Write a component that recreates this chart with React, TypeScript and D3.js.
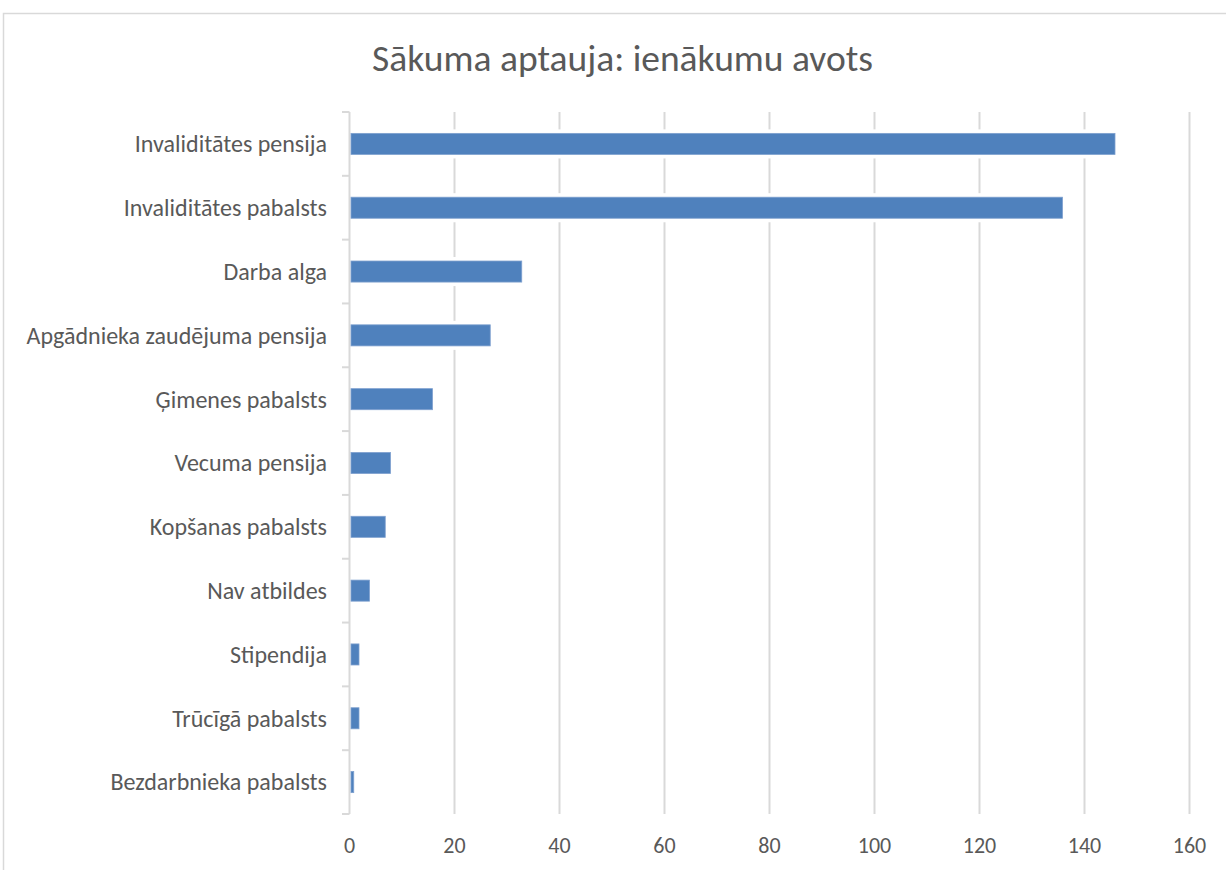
import React from "react";
import * as d3 from "d3";

const title = "Sākuma aptauja: ienākumu avots";
const categories = [
  "Invaliditātes pensija",
  "Invaliditātes pabalsts",
  "Darba alga",
  "Apgādnieka zaudējuma pensija",
  "Ģimenes pabalsts",
  "Vecuma pensija",
  "Kopšanas pabalsts",
  "Nav atbildes",
  "Stipendija",
  "Trūcīgā pabalsts",
  "Bezdarbnieka pabalsts",
];
const values = [146, 136, 33, 27, 16, 8, 7, 4, 2, 2, 1];
const xTicks = [0, 20, 40, 60, 80, 100, 120, 140, 160];

const W = 1226;
const H = 870;
const FONT = "Carlito, Calibri, Lato, 'Open Sans', sans-serif";
const TEXT = "#595959";
const GRID = "#d9d9d9";
const BAR = "#4f81bd";

export default function App() {
  const x = d3.scaleLinear().domain([0, 160]).range([349.5, 1189.5]);
  const y = d3.scaleBand<string>().domain(categories).range([112, 814]).padding(0);
  const bw = y.bandwidth();
  const barH = bw * 0.33;
  const bounds = d3.range(categories.length + 1).map((i) => 112 + i * bw);

  return (
    <svg
      width={W}
      height={H}
      style={{ position: "absolute", left: 0, top: 0, background: "#fff" }}
      fontFamily={FONT}
    >
      <rect x={3.5} y={13.5} width={1240} height={880} fill="#fff" stroke={GRID} strokeWidth={1.5} />
      <text x={622.5} y={71} textAnchor="middle" fontSize={37.5} fill={TEXT}>
        {title}
      </text>
      {xTicks.slice(1).map((t) => (
        <line key={"g" + t} x1={x(t)} x2={x(t)} y1={112} y2={814} stroke={GRID} strokeWidth={2} />
      ))}
      {categories.map((c, i) => (
        <rect
          key={"h" + c}
          x={x(0) + 1}
          y={(y(c) as number) + bw / 2 - barH / 2 - 4}
          width={Math.max(0, x(values[i]) - x(0) + 1)}
          height={barH + 8}
          fill="#fff"
        />
      ))}
      <line x1={x(0)} x2={x(0)} y1={112} y2={814} stroke={GRID} strokeWidth={2} />
      {bounds.map((b, i) => (
        <line key={"t" + i} x1={342} x2={x(0)} y1={b} y2={b} stroke={GRID} strokeWidth={2} />
      ))}
      {categories.map((c, i) => (
        <rect
          key={"b" + c}
          x={x(0) + 1.5}
          y={(y(c) as number) + bw / 2 - barH / 2}
          width={Math.max(0, x(values[i]) - x(0) - 2.5)}
          height={barH}
          fill={BAR}
          stroke="#7ea0cf"
          strokeWidth={0.8}
        />
      ))}
      {categories.map((c) => (
        <text
          key={"l" + c}
          x={327}
          y={(y(c) as number) + bw / 2}
          dy="0.35em"
          textAnchor="end"
          fontSize={24}
          fill={TEXT}
        >
          {c}
        </text>
      ))}
      {xTicks.map((t) => (
        <text key={"x" + t} x={x(t)} y={853} textAnchor="middle" fontSize={22} fill={TEXT}>
          {t}
        </text>
      ))}
    </svg>
  );
}
